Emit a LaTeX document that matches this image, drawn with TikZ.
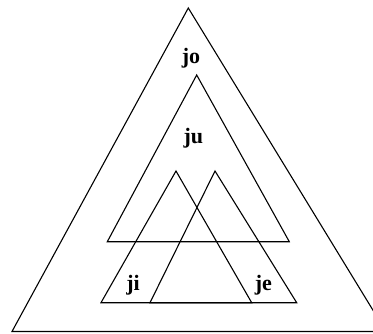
\documentclass[tikz,border=0pt]{standalone}
\usepackage{fontspec}
\setmainfont{Liberation Serif}
\begin{document}
\begin{tikzpicture}[x=1pt,y=-1pt,
  tri/.style={draw=black,line width=1.1pt,line join=miter},
  lbl/.style={font=\bfseries\fontsize{22}{22}\selectfont,anchor=base,inner sep=0pt}]
\useasboundingbox (0,0) rectangle (373,333);
\begin{scope}
\clip (0,0) rectangle (373,333);
\coordinate (oA) at (188.3,8);
\coordinate (oL) at (12,331.5);
\coordinate (oR) at (386,331.5);
\draw[tri] (oA) -- (oL) -- (oR) -- cycle;
\end{scope}
\coordinate (mA) at (196.7,75);
\coordinate (mL) at (107.3,241.7);
\coordinate (mR) at (289.3,241.7);
\draw[tri] (mA) -- (mL) -- (mR) -- cycle;
\coordinate (iA) at (176,171);
\coordinate (iL) at (101,302.7);
\coordinate (iR) at (251.7,302.7);
\draw[tri] (iA) -- (iL) -- (iR) -- cycle;
\coordinate (eA) at (215,171);
\coordinate (eL) at (150,302.7);
\coordinate (eR) at (296.7,302.7);
\draw[tri] (eA) -- (eL) -- (eR) -- cycle;
\node[lbl] (jo) at (191,63) {jo};
\node[lbl] (ju) at (193.3,143.3) {ju};
\node[lbl] (ji) at (133,290) {ji};
\node[lbl] (je) at (263.3,290) {je};
\end{tikzpicture}
\end{document}
